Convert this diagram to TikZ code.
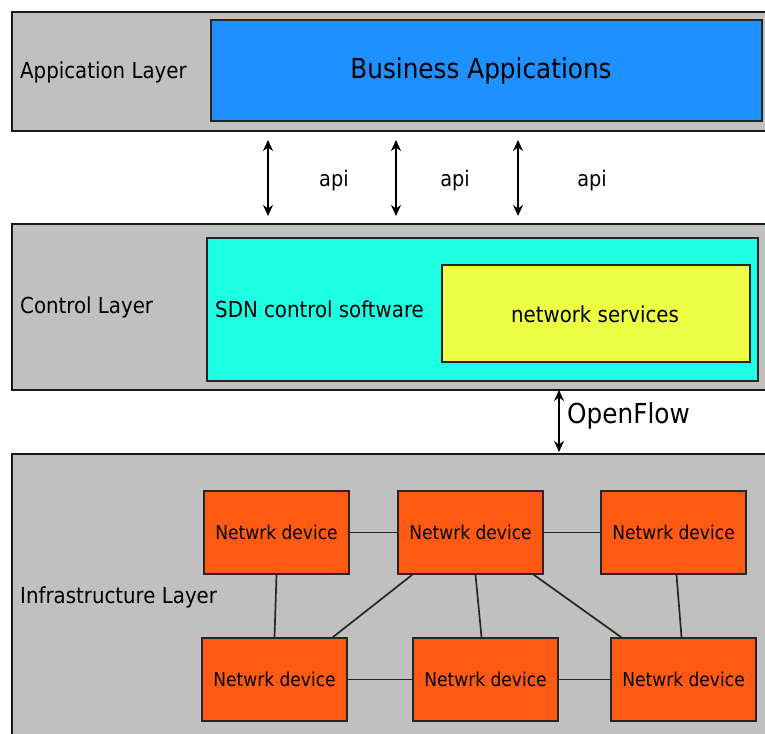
\documentclass[tikz,border=0pt]{standalone}
\usepackage{fontspec}
\setmainfont{DejaVu Sans Condensed}
\usetikzlibrary{arrows.meta}
\definecolor{layergray}{HTML}{C0C0C0}
\definecolor{appblue}{HTML}{1E90FF}
\definecolor{ctlcyan}{HTML}{1EFFE2}
\definecolor{svcyellow}{HTML}{EDFF45}
\definecolor{devorange}{HTML}{FF5A14}
\tikzset{
  layer/.style={draw=black!90, line width=2pt, fill=layergray, anchor=north west, inner sep=0pt},
  inner/.style={draw=black!85, line width=1.8pt, anchor=north west, inner sep=0pt},
  device/.style={draw=black!85, line width=1.5pt, fill=devorange, minimum width=145pt,
    minimum height=83pt, font=\fontsize{19}{22}\selectfont},
  lbl/.style={font=\fontsize{22}{26}\selectfont, anchor=west, inner sep=0pt},
  apitxt/.style={font=\fontsize{21.5}{25}\selectfont},
  bigtxt/.style={font=\fontsize{27.5}{32}\selectfont},
  link/.style={draw=black!85, line width=1.7pt},
  biarrow/.style={line width=1.6pt, {Stealth[length=11pt,width=10pt]}-{Stealth[length=11pt,width=10pt]}}
}
\begin{document}
\begin{tikzpicture}[x=1pt,y=-1pt]
\useasboundingbox (0,0) rectangle (765,733);
% layers
\node[layer, minimum width=770pt, minimum height=119pt] (app) at (11,11) {};
\node[layer, minimum width=770pt, minimum height=166pt] (ctl) at (11,223) {};
\node[layer, minimum width=770pt, minimum height=300pt] (inf) at (11,453) {};
\node[lbl] (applbl) at (20,72) {Appication Layer};
\node[lbl] (ctllbl) at (20,307) {Control Layer};
\node[lbl] (inflbl) at (20,597) {Infrastructure Layer};
% application layer
\node[inner, fill=appblue, minimum width=551pt, minimum height=101pt] (biz) at (210,19) {};
\node[bigtxt] (biztxt) at (481,71) {Business Appications};
% control layer
\node[inner, fill=ctlcyan, minimum width=551pt, minimum height=143pt] (sdn) at (206,237) {};
\node[lbl] (sdntxt) at (215,309) {SDN control software};
\node[inner, fill=svcyellow, minimum width=308pt, minimum height=97pt] (svc) at (441,264) {};
\node[font=\fontsize{22}{26}\selectfont] (svctxt) at (595,314) {network services};
% api arrows
\coordinate (a1t) at (268,140); \coordinate (a1b) at (268,216);
\coordinate (a2t) at (396,140); \coordinate (a2b) at (396,216);
\coordinate (a3t) at (518,140); \coordinate (a3b) at (518,216);
\draw[biarrow] (a1t) -- (a1b);
\draw[biarrow] (a2t) -- (a2b);
\draw[biarrow] (a3t) -- (a3b);
\node[apitxt] (api1) at (334,181) {api};
\node[apitxt] (api2) at (455,181) {api};
\node[apitxt] (api3) at (592,181) {api};
% openflow
\coordinate (oft) at (559,390); \coordinate (ofb) at (559,452);
\draw[biarrow] (oft) -- (ofb);
\node[bigtxt, anchor=west, inner sep=0pt] (of) at (567,416) {OpenFlow};
% devices
\node[device] (d1) at (276.5,532.5) {Netwrk device};
\node[device] (d2) at (470.5,532.5) {Netwrk device};
\node[device] (d3) at (673.5,532.5) {Netwrk device};
\node[device] (d4) at (274.5,679.5) {Netwrk device};
\node[device] (d5) at (485.5,679.5) {Netwrk device};
\node[device] (d6) at (683.5,679.5) {Netwrk device};
% links
\draw[link] (d1) -- (d2);
\draw[link] (d2) -- (d3);
\draw[link] (d4) -- (d5);
\draw[link] (d5) -- (d6);
\draw[link] (d1.south) -- (d4.north);
\draw[link] ([xshift=15]d2.south west) -- ([xshift=-15]d4.north east);
\draw[link] ([xshift=5]d2.south) -- ([xshift=-4]d5.north);
\draw[link] ([xshift=-10]d2.south east) -- ([xshift=11]d6.north west);
\draw[link] ([xshift=3]d3.south) -- ([xshift=-2]d6.north);
\end{tikzpicture}
\end{document}
